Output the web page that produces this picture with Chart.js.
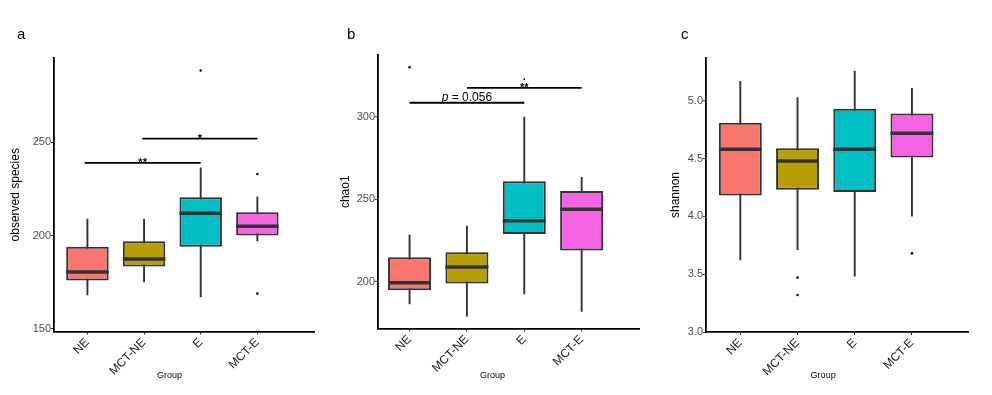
<!DOCTYPE html>
<html>
<head>
<meta charset="utf-8">
<script src="https://cdn.jsdelivr.net/npm/chart.js@4.4.1/dist/chart.umd.min.js"></script>
<style>
  body { margin: 0; background: #fff; width: 992px; height: 395px; position: relative; overflow: hidden;
         font-family: 'Liberation Sans', Arial, sans-serif; }
  .panel { position: absolute; top: 0; height: 395px; }
  .tag { position: absolute; top: 25px; font-size: 15px; color: #000; }
</style>
</head>
<body>
<div class="panel" style="left:0;width:330px"><canvas id="chartObserved"></canvas></div>
<div class="panel" style="left:330px;width:330px"><canvas id="chartChao"></canvas></div>
<div class="panel" style="left:660px;width:332px"><canvas id="chartShannon"></canvas></div>
<div class="tag" style="left:17px">a</div>
<div class="tag" style="left:347px">b</div>
<div class="tag" style="left:681px">c</div>

<script>
const groups = ['NE', 'MCT-NE', 'E', 'MCT-E'];
const groupColors = ['#F8766D', '#B79F00', '#00BFC4', '#F564E3'];

// observed species
const obsLow = [168, 175, 167, 197];
const obsQ1 = [176, 183.5, 194, 200];
const obsMed = [180.5, 187.5, 212, 205];
const obsQ3 = [194, 197, 220.5, 212.5];
const obsHigh = [209, 209, 236.5, 221];
const obsOutliers = [[], [], [288.5], [233, 169]];
const obsTicks = [150, 200, 250];
const obsSig = [
    { from: 0.95, to: 3, y: 239, label: '**' },
    { from: 1.97, to: 4, y: 252, label: '*' }
];

// chao1
const chaoLow = [186.5, 179, 192.5, 182];
const chaoQ1 = [195, 199, 229, 219];
const chaoMed = [199.5, 209, 237, 244];
const chaoQ3 = [215, 218, 261, 255];
const chaoHigh = [228.5, 234, 300, 263.5];
const chaoOutliers = [[330], [], [], []];
const chaoTicks = [200, 250, 300];
const chaoSig = [
    { from: 1, to: 3, y: 308.5, label: ' = 0.056', italic: 'p' },
    { from: 2, to: 4, y: 317.5, label: '**', extra: '.' }
];

// shannon
const shanLow = [3.62, 3.71, 3.48, 4.0];
const shanQ1 = [4.18, 4.23, 4.21, 4.51];
const shanMed = [4.58, 4.48, 4.58, 4.72];
const shanQ3 = [4.81, 4.59, 4.93, 4.89];
const shanHigh = [5.17, 5.03, 5.26, 5.11];
const shanOutliers = [[], [3.47, 3.32], [], [3.68]];
const shanTicks = [3.0, 3.5, 4.0, 4.5, 5.0];
const shanSig = [];

const BOX_W = 0.75;
const INK = '#333333';

const sigLabels = {
    id: 'sigLabels',
    afterDatasetsDraw(chart, args, opts) {
        const ctx = chart.ctx;
        const xs = chart.scales.x, ys = chart.scales.y;
        ctx.save();
        ctx.fillStyle = '#000';
        ctx.textBaseline = 'alphabetic';
        (opts.items || []).forEach(s => {
            const cx = (xs.getPixelForValue(s.from) + xs.getPixelForValue(s.to)) / 2;
            const y = ys.getPixelForValue(s.y);
            if (s.italic) {
                ctx.font = 'italic 12px "Liberation Sans", Arial';
                const w1 = ctx.measureText(s.italic).width;
                ctx.font = '12px "Liberation Sans", Arial';
                const w2 = ctx.measureText(s.label).width;
                const x0 = cx - (w1 + w2) / 2;
                ctx.textAlign = 'left';
                ctx.font = 'italic 12px "Liberation Sans", Arial';
                ctx.fillText(s.italic, x0, y - 2);
                ctx.font = '12px "Liberation Sans", Arial';
                ctx.fillText(s.label, x0 + w1, y - 2);
            } else {
                ctx.textAlign = 'center';
                ctx.font = 'bold 11px "Liberation Sans", Arial';
                ctx.fillText(s.label, cx, y + 3);
                if (s.extra) ctx.fillText(s.extra, cx, y - 8);
            }
        });
        // x axis title centred on the groups
        ctx.font = '9px "Liberation Sans", Arial';
        ctx.fillStyle = '#000';
        ctx.textAlign = 'center';
        ctx.textBaseline = 'middle';
        ctx.fillText('Group', xs.getPixelForValue(2.5) - 3, xs.bottom - 19);
        ctx.restore();
    }
};

function makeBoxChart(elementId, p) {
    const ctx = document.getElementById(elementId);
    const whiskers = [], medians = [], outliers = [], sigLines = [];
    groups.forEach((g, i) => {
        const x = i + 1;
        whiskers.push({ x: x, y: p.low[i] }, { x: x, y: p.high[i] }, { x: x, y: null });
        medians.push({ x: x - BOX_W / 2, y: p.med[i] }, { x: x + BOX_W / 2, y: p.med[i] }, { x: x, y: null });
        p.out[i].forEach(v => outliers.push({ x: x, y: v }));
    });
    p.sig.forEach(s => {
        sigLines.push({ x: s.from, y: s.y }, { x: s.to, y: s.y }, { x: s.to, y: null });
    });

    const axisGrid = { display: true, drawOnChartArea: false, drawTicks: true, tickLength: 3, tickColor: INK, tickWidth: 1 };
    const axisBorder = { display: true, color: '#000', width: 1.8 };

    new Chart(ctx, {
        type: 'bar',
        data: {
            datasets: [
                {
                    type: 'line', data: whiskers, borderColor: INK, borderWidth: 1.9,
                    pointRadius: 0, spanGaps: false, order: 4
                },
                {
                    type: 'bar', data: groups.map((g, i) => ({ x: i + 1, y: [p.q1[i], p.q3[i]] })),
                    backgroundColor: groupColors, borderColor: INK, borderWidth: 2, borderSkipped: false,
                    categoryPercentage: 1, barPercentage: BOX_W, order: 3
                },
                {
                    type: 'line', data: medians, borderColor: INK, borderWidth: 3.5, borderCapStyle: 'butt',
                    pointRadius: 0, spanGaps: false, order: 2
                },
                {
                    type: 'scatter', data: outliers, pointRadius: 1.3, backgroundColor: '#111',
                    borderWidth: 0, order: 1
                },
                {
                    type: 'line', data: sigLines, borderColor: '#000', borderWidth: 1.8,
                    pointRadius: 0, spanGaps: false, order: 0
                }
            ]
        },
        options: {
            responsive: true,
            maintainAspectRatio: false,
            animation: false,
            layout: {
                padding: { top: p.top, right: p.right, left: 0, bottom: 0 }
            },
            scales: {
                x: {
                    type: 'linear', min: p.xMin, max: p.xMax, offset: false,
                    afterBuildTicks: s => { s.ticks = groups.map((g, i) => ({ value: i + 1 })); },
                    afterFit: s => { s.height = p.xH; },
                    ticks: {
                        autoSkip: false, maxRotation: 45, minRotation: 45, padding: 1,
                        font: { size: 12, family: 'Liberation Sans' }, color: '#1a1a1a',
                        callback: v => groups[v - 1]
                    },
                    grid: Object.assign({ offset: false }, axisGrid),
                    border: axisBorder
                },
                y: {
                    type: 'linear', min: p.yMin, max: p.yMax,
                    afterBuildTicks: s => { s.ticks = p.ticks.map(v => ({ value: v })); },
                    afterFit: s => { s.width = p.yW; },
                    ticks: {
                        padding: 0, font: { size: 11, family: 'Liberation Sans' }, color: '#4d4d4d',
                        callback: v => p.fmt(v)
                    },
                    grid: axisGrid,
                    border: axisBorder,
                    title: {
                        display: true, text: p.title, color: '#000',
                        font: { size: 12, family: 'Liberation Sans' }, padding: { top: 8 }
                    }
                }
            },
            plugins: {
                legend: { display: false },
                tooltip: { enabled: false },
                sigLabels: { items: p.sig }
            }
        },
        plugins: [sigLabels]
    });
}

makeBoxChart('chartObserved', {
    low: obsLow, q1: obsQ1, med: obsMed, q3: obsQ3, high: obsHigh, out: obsOutliers,
    sig: obsSig, ticks: obsTicks, title: 'observed species', fmt: v => String(v),
    xMin: 0.41, xMax: 5.0, yMin: 148.6, yMax: 295.2,
    top: 58, right: 16, yW: 54, xH: 63.5
});

makeBoxChart('chartChao', {
    low: chaoLow, q1: chaoQ1, med: chaoMed, q3: chaoQ3, high: chaoHigh, out: chaoOutliers,
    sig: chaoSig, ticks: chaoTicks, title: 'chao1', fmt: v => String(v),
    xMin: 0.45, xMax: 5.0, yMin: 171.8, yMax: 337.4,
    top: 55, right: 21, yW: 48, xH: 66.5
});

makeBoxChart('chartShannon', {
    low: shanLow, q1: shanQ1, med: shanMed, q3: shanQ3, high: shanHigh, out: shanOutliers,
    sig: shanSig, ticks: shanTicks, title: 'shannon', fmt: v => v.toFixed(1),
    xMin: 0.4, xMax: 4.98, yMin: 3.0, yMax: 5.37,
    top: 58, right: 24, yW: 46, xH: 63
});
</script>
</body>
</html>
